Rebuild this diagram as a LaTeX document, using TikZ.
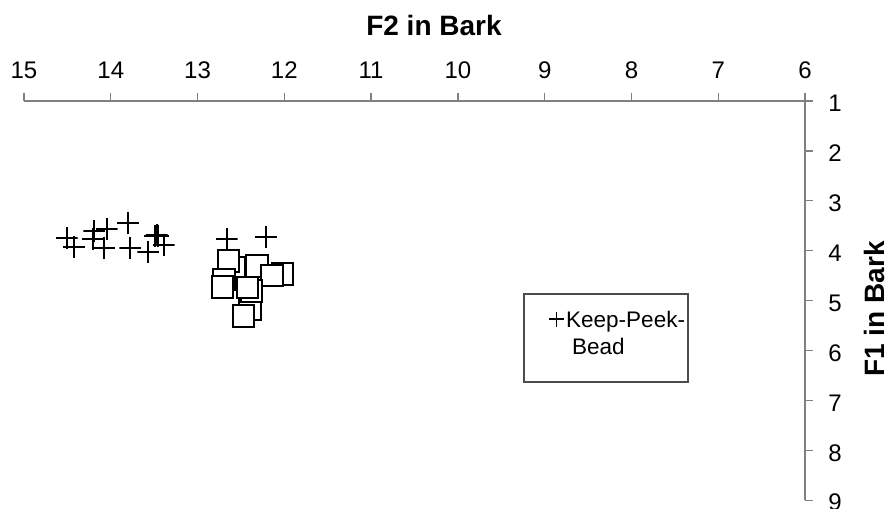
\documentclass[tikz,border=0pt]{standalone}
\usepackage{fontspec}
\setmainfont{Liberation Sans}
\begin{document}
\begin{tikzpicture}[x=1pt,y=-1pt,
  axisline/.style={draw=black!50, line width=1.3pt},
  ticklabel/.style={inner sep=0pt, font=\fontsize{24}{28}\selectfont},
  axistitle/.style={inner sep=0pt, font=\fontsize{28}{32}\selectfont\bfseries},
  pluspt/.style={minimum size=22pt, inner sep=0pt, outer sep=0pt,
    path picture={\draw[line width=2pt,black]
      (path picture bounding box.north) -- (path picture bounding box.south)
      (path picture bounding box.west) -- (path picture bounding box.east);}},
  sqpt/.style={rectangle, minimum size=21.5pt, inner sep=0pt, draw=black, fill=white, line width=2pt},
  legendbox/.style={draw=black!70, line width=1.3pt, fill=white},
  legendtext/.style={inner sep=0pt, anchor=base west, font=\fontsize{22.5}{26}\selectfont}]
\useasboundingbox (0,0) rectangle (890,508);
\fill[white] (0,0) rectangle (890,508);

% axes
\coordinate (xl) at (24,101);
\coordinate (xr) at (805,101);
\coordinate (yb) at (805,500);
\draw[axisline] (xl) -- (xr) -- (yb);
\foreach \v [count=\i from 0] in {15,14,...,6}{
  \coordinate (tx\v) at ({24+\i*86.78},101);
  \draw[axisline] (tx\v) -- ++(0,-8);
  \node[ticklabel] (lx\v) at ({24+\i*86.78},70.5) {\v};
}
\foreach \v in {1,...,9}{
  \coordinate (ty\v) at (805,{101+(\v-1)*49.9});
  \draw[axisline] (ty\v) -- ++(8,0);
  \node[ticklabel] (ly\v) at (835,{103.5+(\v-1)*49.9}) {\v};
}
\node[axistitle] (t2) at (434,25.5) {F2 in Bark};
\node[axistitle, rotate=90] (t1) at (874,309) {F1 in Bark};

% plus series
\foreach \px/\py [count=\k] in {66.7/237.7, 74/246.7, 94.3/231, 92.5/239, 106.7/229,
  104/247.7, 127.8/222.7, 130.3/248, 148.3/251.9, 155/235.5, 156.7/234.5, 158.3/235.5,
  163.5/244.5, 226.7/239, 266/236.5}{
  \node[pluspt] (p\k) at (\px,\py) {};
}

% square series (back to front)
\foreach \sx/\sy [count=\k] in {234/267.5, 228.5/261, 282.5/274, 257/266, 272/275.5,
  250/309.5, 243.3/316, 224/279.7, 222.5/287, 251.5/291, 247.5/287.5}{
  \node[sqpt] (s\k) at (\sx,\sy) {};
}

% legend
\node[legendbox, minimum width=164pt, minimum height=88pt, inner sep=0pt] (leg) at (606,338) {};
\draw[line width=1.3pt] (549,319) -- (564,319) (556.5,311.5) -- (556.5,326.5);
\node[legendtext] (lg1) at (566,327) {Keep-Peek-};
\node[legendtext] (lg2) at (572,354) {Bead};
\end{tikzpicture}
\end{document}
